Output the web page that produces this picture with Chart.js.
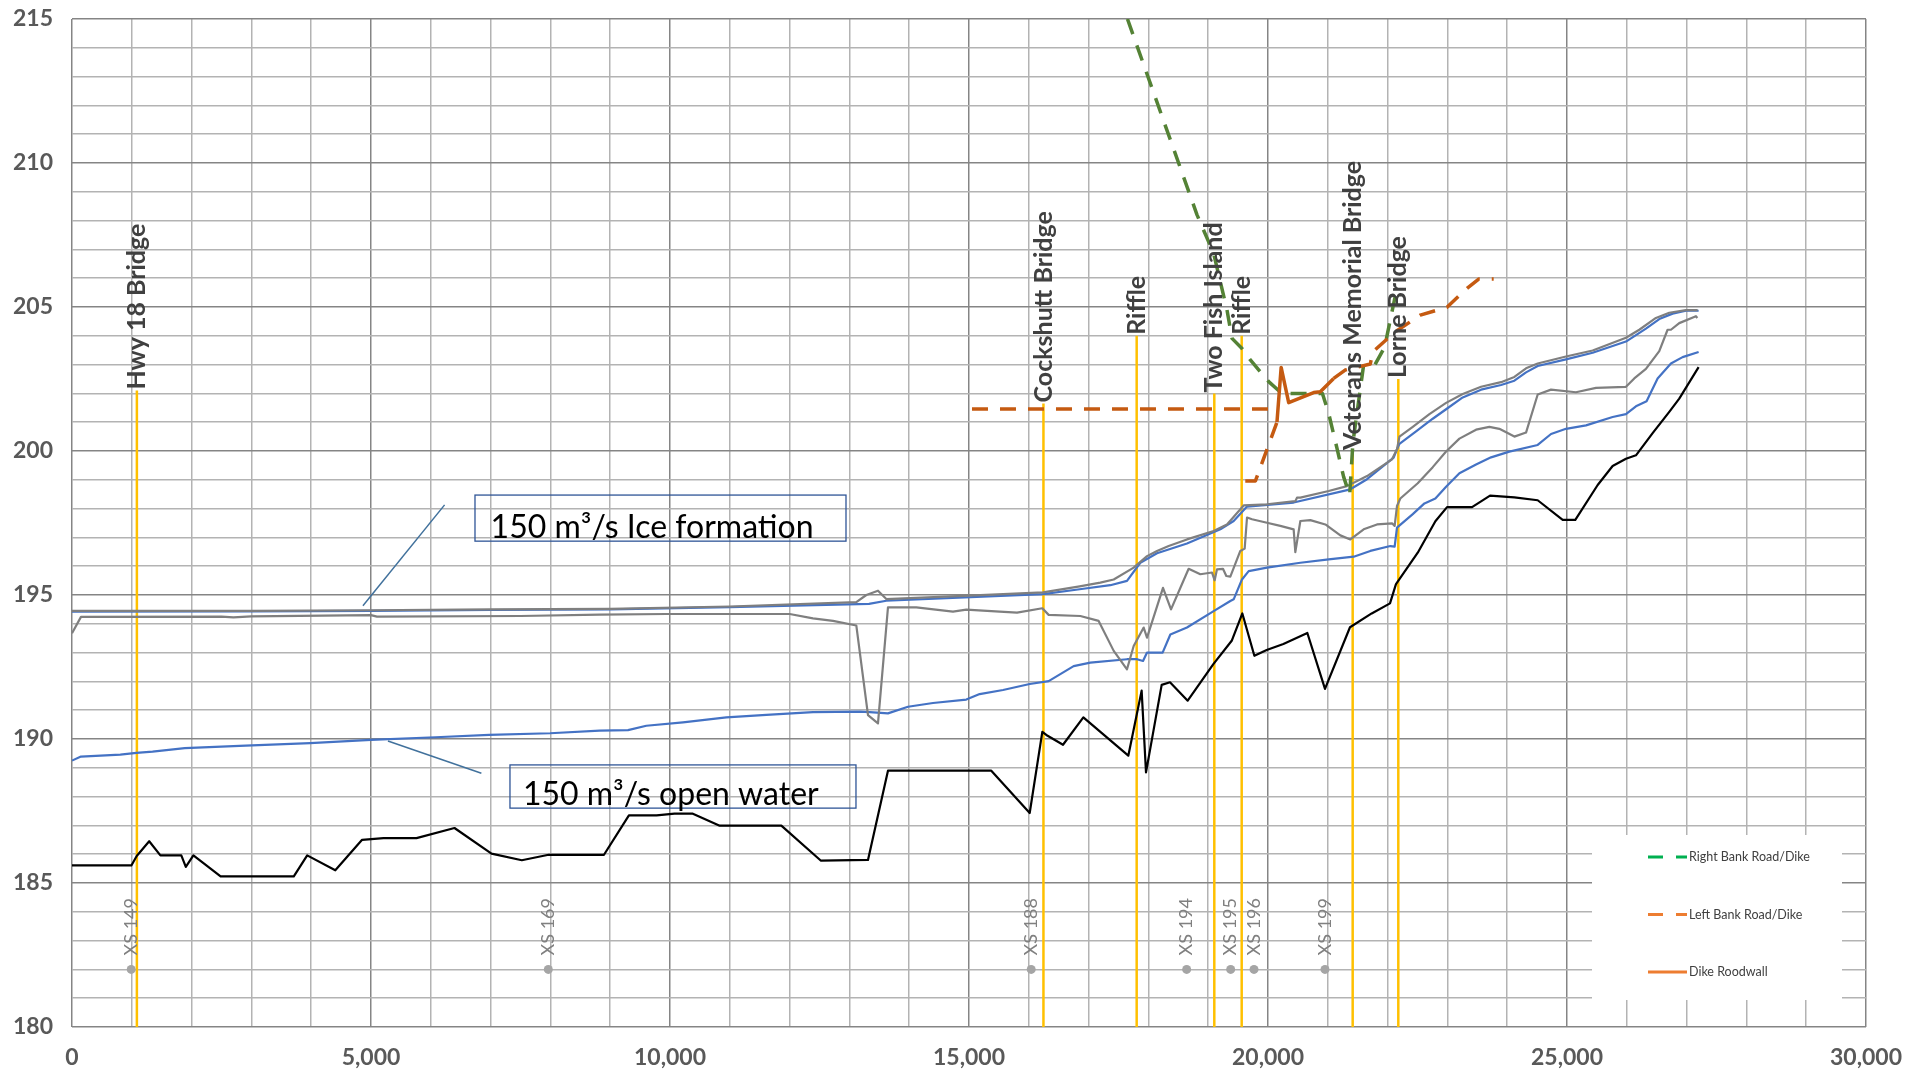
<!DOCTYPE html>
<html>
<head>
<meta charset="utf-8">
<title>Water surface profiles</title>
<script src="https://cdn.jsdelivr.net/npm/chart.js@4.4.1/dist/chart.umd.min.js"></script>
<style>
  html, body { margin: 0; padding: 0; background: #ffffff; }
  #wrap { width: 1911px; height: 1081px; position: relative; }
  canvas { display: block; }
</style>
</head>
<body>
<div id="wrap"><canvas id="profile" width="1911" height="1081"></canvas></div>
<script>
// ---- Profile data: station along the river (m) and elevation (m) ----

// Channel bed (thalweg)
const bedStation = [0, 993, 1082, 1291, 1478, 1828, 1903, 2030, 2485, 3709, 3933, 4403, 4851, 5209, 5761, 6396, 7015, 7522, 7970, 8896, 9313, 9776, 10075, 10373, 10831, 11862, 12520, 13311, 13645, 15373, 16015, 16226, 16293, 16572, 16912, 17664, 17887, 17960, 18222, 18361, 18657, 19086, 19393, 19571, 19772, 19978, 20257, 20658, 20953, 21371, 21734, 22040, 22140, 22504, 22799, 22994, 23412, 23713, 24120, 24510, 24928, 25139, 25513, 25763, 25986, 26153, 26432, 26710, 26877, 27201];
const bedElev = [185.61, 185.61, 185.94, 186.45, 185.96, 185.96, 185.56, 185.96, 185.23, 185.23, 185.96, 185.44, 186.5, 186.56, 186.56, 186.91, 186.02, 185.79, 185.98, 185.98, 187.35, 187.35, 187.41, 187.41, 186.99, 186.99, 185.78, 185.8, 188.9, 188.9, 187.43, 190.25, 190.14, 189.8, 190.75, 189.42, 191.68, 188.84, 191.88, 191.97, 191.33, 192.6, 193.41, 194.36, 192.89, 193.09, 193.3, 193.68, 191.74, 193.88, 194.36, 194.71, 195.38, 196.47, 197.56, 198.05, 198.05, 198.45, 198.39, 198.29, 197.61, 197.61, 198.82, 199.48, 199.73, 199.85, 200.62, 201.36, 201.82, 202.91];

// 150 m3/s open water surface
const openStation = [0, 150, 808, 1078, 1347, 1886, 2904, 3982, 5000, 6078, 6976, 7994, 8824, 9298, 9604, 10217, 10942, 11611, 12391, 13172, 13339, 13645, 13980, 14398, 14955, 15178, 15569, 16015, 16332, 16750, 17029, 17642, 17810, 17910, 17977, 18238, 18367, 18645, 19091, 19370, 19426, 19565, 19677, 19983, 20541, 21015, 21433, 21711, 22046, 22118, 22157, 22421, 22616, 22799, 22978, 23201, 23479, 23730, 24036, 24510, 24733, 24983, 25318, 25763, 25986, 26153, 26331, 26515, 26738, 26933, 27201];
const openElev = [189.25, 189.39, 189.46, 189.52, 189.56, 189.68, 189.77, 189.86, 189.97, 190.06, 190.14, 190.2, 190.29, 190.31, 190.46, 190.58, 190.75, 190.84, 190.93, 190.95, 190.93, 190.89, 191.12, 191.25, 191.37, 191.56, 191.7, 191.91, 192.01, 192.53, 192.65, 192.77, 192.77, 192.71, 193.0, 193.0, 193.63, 193.87, 194.44, 194.79, 194.85, 195.54, 195.83, 195.95, 196.12, 196.24, 196.33, 196.53, 196.7, 196.68, 197.34, 197.81, 198.18, 198.35, 198.76, 199.23, 199.53, 199.78, 199.98, 200.21, 200.59, 200.77, 200.89, 201.18, 201.28, 201.55, 201.73, 202.52, 203.04, 203.26, 203.44];

// 150 m3/s ice formation: underside of ice
const iceBottomStation = [0, 150, 2500, 2700, 3000, 5000, 5100, 7500, 8824, 9939, 12001, 12391, 12726, 13116, 13311, 13478, 13645, 14119, 14732, 14955, 15513, 15803, 16226, 16332, 16862, 17168, 17420, 17642, 17754, 17921, 17977, 18244, 18378, 18673, 18868, 19064, 19108, 19147, 19247, 19303, 19370, 19537, 19610, 19649, 19733, 19983, 20206, 20429, 20457, 20541, 20708, 20959, 21210, 21377, 21600, 21823, 22074, 22118, 22157, 22213, 22504, 22755, 22978, 23201, 23479, 23702, 23869, 24120, 24315, 24510, 24733, 25150, 25485, 25986, 26125, 26320, 26543, 26682, 26738, 26877, 27156, 27180];
const iceBottomElev = [193.67, 194.24, 194.25, 194.22, 194.26, 194.3, 194.25, 194.27, 194.32, 194.34, 194.34, 194.19, 194.1, 193.94, 190.83, 190.54, 194.57, 194.57, 194.42, 194.49, 194.42, 194.39, 194.54, 194.31, 194.27, 194.1, 193.06, 192.42, 193.23, 193.87, 193.52, 195.25, 194.5, 195.91, 195.72, 195.78, 195.51, 195.89, 195.91, 195.66, 195.64, 196.53, 196.61, 197.69, 197.63, 197.51, 197.4, 197.28, 196.49, 197.57, 197.6, 197.45, 197.07, 196.93, 197.28, 197.45, 197.49, 197.4, 198.09, 198.35, 198.88, 199.44, 199.98, 200.43, 200.74, 200.84, 200.77, 200.5, 200.64, 201.96, 202.13, 202.04, 202.19, 202.23, 202.52, 202.85, 203.47, 204.21, 204.21, 204.44, 204.68, 204.62];

// 150 m3/s ice formation: top of ice
const iceTopStation = [0, 3000, 5000, 7000, 9000, 11000, 13116, 13283, 13478, 13617, 15000, 16237, 16851, 17196, 17420, 17754, 17977, 18144, 18339, 18645, 19091, 19314, 19593, 19983, 20457, 20485, 20541, 21015, 21321, 21656, 22074, 22157, 22198, 22421, 22699, 22978, 23256, 23563, 23897, 24120, 24315, 24510, 24983, 25429, 25986, 26209, 26487, 26710, 26989, 27184];
const iceTopElev = [194.45, 194.45, 194.47, 194.5, 194.52, 194.6, 194.75, 195.0, 195.15, 194.86, 194.98, 195.09, 195.3, 195.43, 195.54, 195.95, 196.35, 196.53, 196.7, 196.93, 197.22, 197.45, 198.11, 198.15, 198.26, 198.38, 198.38, 198.61, 198.78, 199.13, 199.71, 200.06, 200.5, 200.84, 201.28, 201.67, 201.98, 202.23, 202.39, 202.57, 202.87, 203.04, 203.28, 203.49, 203.93, 204.21, 204.62, 204.8, 204.89, 204.89];

// 150 m3/s ice formation: water level under ice
const iceWaterStation = [0, 3000, 5000, 7000, 9000, 11000, 13328, 13617, 16237, 16851, 17363, 17642, 17865, 18144, 18645, 19203, 19426, 19649, 20429, 21377, 21656, 22101, 22157, 22198, 22476, 22755, 22978, 23256, 23563, 23897, 24120, 24315, 24510, 24983, 25429, 25986, 26320, 26543, 26766, 26989, 27201];
const iceWaterElev = [194.42, 194.43, 194.45, 194.48, 194.5, 194.58, 194.69, 194.8, 195.03, 195.2, 195.34, 195.49, 196.12, 196.45, 196.79, 197.28, 197.57, 198.07, 198.21, 198.67, 199.02, 199.77, 200.06, 200.25, 200.68, 201.12, 201.45, 201.86, 202.13, 202.29, 202.44, 202.73, 202.95, 203.18, 203.41, 203.8, 204.25, 204.58, 204.77, 204.87, 204.87];

// Top of right bank road / dike
const rightBankStation = [17650, 18813, 19091, 19314, 19398, 19565, 19705, 20011, 20230, 20910, 21014, 21154, 21265, 21366, 21420, 21600, 21790, 21950, 22150];
const rightBankElev = [215.0, 208.2, 206.86, 204.9, 203.91, 203.56, 203.16, 202.41, 202.0, 202.0, 201.31, 200.09, 199.1, 198.47, 200.3, 203.0, 203.0, 203.6, 205.6];

// Top of left bank road / dike (null marks a break in the line)
const leftBankStation = [15050, 20150, null, 19620, 19790, 20150, null, 21098, 21290, 21710, 21756, 22129, 22547, 22993, 23328, 23523, 23774];
const leftBankElev = [201.46, 201.46, null, 198.96, 198.96, 201.0, null, 202.52, 202.81, 203.02, 203.45, 204.14, 204.72, 204.99, 205.65, 205.97, 205.97];

// Top of dike floodwall
const floodwallStation = [20150, 20220, 20346, 20764, 20875, 21098];
const floodwallElev = [201.0, 202.9, 201.68, 202.03, 202.06, 202.52];

// Bridges and riffles
const bridgeNames = ['Hwy 18 Bridge', 'Cockshutt Bridge', 'Riffle', 'Two Fish Island', 'Riffle', 'Veterans Memorial Bridge', 'Lorne Bridge'];
const bridgeStations = [1085, 16245, 17804, 19102, 19560, 21416, 22179];
const bridgeTops = [202.1, 201.65, 204.0, 202.0, 204.0, 200.0, 202.5];
const bridgeBase = 180;

// Surveyed cross sections
const xsNames = ['XS 149', 'XS 169', 'XS 188', 'XS 194', 'XS 195', 'XS 196', 'XS 199'];
const xsStations = [990, 7965, 16040, 18640, 19376, 19766, 20953];
const xsElev = 182;

// Axis ranges and ticks
const xMin = 0, xMax = 30000, xMinorStep = 1000, xMajorStep = 5000;
const yMin = 180, yMax = 215, yMinorStep = 1, yMajorStep = 5;

// ---- Styling ----
const FONT = 'Lato, "Open Sans", "Liberation Sans", sans-serif';
const GRID_MINOR = '#b3b3b3';
const GRID_MAJOR = '#858585';
const GOLD = '#FFC000';
const BLUE = '#4472C4';
const GREY = '#7F7F7F';
const GREEN = '#548235';
const ORANGE = '#C55A11';

function pts(xs, ys) {
  return xs.map((x, i) => ys[i] === null
    ? { x: (x === null ? xs[i - 1] : x), y: null }
    : { x: x, y: ys[i] });
}

function profile(label, xs, ys, color, width, extra) {
  return Object.assign({
    label: label,
    data: pts(xs, ys),
    borderColor: color,
    backgroundColor: color,
    borderWidth: width,
    pointRadius: 0,
    pointHoverRadius: 0,
    fill: false,
    tension: 0,
    spanGaps: false,
    borderJoinStyle: 'round'
  }, extra || {});
}

const datasets = [];

// vertical lines at the bridges, labelled at their top
bridgeNames.forEach((name, i) => {
  datasets.push(profile(name, [bridgeStations[i], bridgeStations[i]], [bridgeBase, bridgeTops[i]], GOLD, 2.5,
    { order: 50, bridgeLabel: name }));
});

datasets.push({
  label: 'Cross sections',
  data: pts(xsStations, xsStations.map(() => xsElev)),
  showLine: false,
  pointRadius: 4.5,
  pointHoverRadius: 4.5,
  pointBorderWidth: 0,
  pointBackgroundColor: '#A5A5A5',
  borderColor: '#A5A5A5',
  order: 45,
  xsLabels: xsNames
});

datasets.push(profile('Channel bed', bedStation, bedElev, '#000000', 2.2, { order: 30 }));
datasets.push(profile('150 m³/s open water', openStation, openElev, BLUE, 2.2, { order: 29 }));
datasets.push(profile('150 m³/s ice formation - underside of ice', iceBottomStation, iceBottomElev, GREY, 2.2, { order: 28 }));
datasets.push(profile('150 m³/s ice formation - water level', iceWaterStation, iceWaterElev, BLUE, 2.2, { order: 27 }));
datasets.push(profile('150 m³/s ice formation - top of ice', iceTopStation, iceTopElev, GREY, 2.2, { order: 26 }));
datasets.push(profile('Right Bank Road/Dike', rightBankStation, rightBankElev, GREEN, 3.5,
  { order: 10, borderDash: [16, 12], borderCapStyle: 'butt', legendColor: '#00B050' }));
datasets.push(profile('Left Bank Road/Dike', leftBankStation, leftBankElev, ORANGE, 3.5,
  { order: 9, borderDash: [16, 12], borderCapStyle: 'butt', legendColor: '#ED7D31' }));
datasets.push(profile('Dike Roodwall', floodwallStation, floodwallElev, ORANGE, 3.5,
  { order: 8, legendColor: '#ED7D31' }));

const legendItems = ['Right Bank Road/Dike', 'Left Bank Road/Dike', 'Dike Roodwall'];

// Flow annotations: a framed note with a leader line to its profile (data units)
const notes = [
  { text: '150 m³/s Ice formation', box: [6739, 12943, 198.47, 196.87], textAt: [7000, 196.98], leader: [[6231, 198.13], [4865, 194.63]] },
  { text: '150 m³/s open water', box: [7324, 13110, 189.1, 187.6], textAt: [7540, 187.7], leader: [[5283, 189.93], [6846, 188.81]] }
];

// ---- Plugins ----
const legendBox = {
  id: 'legendBox',
  beforeDatasetsDraw(chart) {
    const { ctx, chartArea: a } = chart;
    ctx.save();
    ctx.fillStyle = '#ffffff';
    ctx.fillRect(a.right - 274, a.bottom - 192, 250, 165);
    ctx.restore();
  },
  afterDatasetsDraw(chart) {
    const { ctx, chartArea: a } = chart;
    ctx.save();
    legendItems.forEach((name, k) => {
      const ds = chart.data.datasets.find(d => d.label === name);
      const y = a.bottom - 170 + k * 57.5;
      const x0 = a.right - 218, x1 = a.right - 179;
      ctx.strokeStyle = ds.legendColor || ds.borderColor;
      ctx.lineWidth = 3;
      ctx.lineCap = 'butt';
      ctx.setLineDash(ds.borderDash ? [15, 13] : []);
      ctx.beginPath();
      ctx.moveTo(x0, y);
      ctx.lineTo(x1, y);
      ctx.stroke();
      ctx.setLineDash([]);
      ctx.fillStyle = '#404040';
      ctx.font = '12.5px ' + FONT;
      ctx.textAlign = 'left';
      ctx.textBaseline = 'middle';
      ctx.fillText(name, x1 + 2, y);
    });
    ctx.restore();
  }
};

const markLabels = {
  id: 'markLabels',
  afterDatasetsDraw(chart) {
    const { ctx } = chart;
    const xs = chart.scales.x, ys = chart.scales.y;
    ctx.save();
    chart.data.datasets.forEach(ds => {
      if (ds.bridgeLabel) {
        const top = ds.data[1];
        const px = xs.getPixelForValue(top.x), py = ys.getPixelForValue(top.y);
        ctx.save();
        ctx.translate(px, py - 1);
        ctx.rotate(-Math.PI / 2);
        ctx.font = 'bold 25px ' + FONT;
        ctx.fillStyle = '#404040';
        ctx.textAlign = 'left';
        ctx.textBaseline = 'middle';
        ctx.fillText(ds.bridgeLabel, 0, 0);
        ctx.restore();
      }
      if (ds.xsLabels) {
        ds.data.forEach((p, i) => {
          const px = xs.getPixelForValue(p.x), py = ys.getPixelForValue(p.y);
          ctx.save();
          ctx.translate(px, py - 14);
          ctx.rotate(-Math.PI / 2);
          ctx.font = '18px ' + FONT;
          ctx.fillStyle = '#808080';
          ctx.textAlign = 'left';
          ctx.textBaseline = 'middle';
          ctx.fillText(ds.xsLabels[i], 0, 0);
          ctx.restore();
        });
      }
    });
    ctx.restore();
  }
};

const flowNotes = {
  id: 'flowNotes',
  afterDatasetsDraw(chart) {
    const { ctx } = chart;
    const xs = chart.scales.x, ys = chart.scales.y;
    ctx.save();
    notes.forEach(n => {
      const l = xs.getPixelForValue(n.leader[0][0]), t = ys.getPixelForValue(n.leader[0][1]);
      const r = xs.getPixelForValue(n.leader[1][0]), b = ys.getPixelForValue(n.leader[1][1]);
      ctx.strokeStyle = '#41719C';
      ctx.lineWidth = 1.5;
      ctx.beginPath();
      ctx.moveTo(l, t);
      ctx.lineTo(r, b);
      ctx.stroke();

      const bx0 = xs.getPixelForValue(n.box[0]), bx1 = xs.getPixelForValue(n.box[1]);
      const by0 = ys.getPixelForValue(n.box[2]), by1 = ys.getPixelForValue(n.box[3]);
      ctx.strokeStyle = '#2F5597';
      ctx.lineWidth = 1.3;
      ctx.strokeRect(bx0, by0, bx1 - bx0, by1 - by0);

      ctx.fillStyle = '#000000';
      ctx.font = '32px ' + FONT;
      ctx.textAlign = 'left';
      ctx.textBaseline = 'alphabetic';
      ctx.fillText(n.text, xs.getPixelForValue(n.textAt[0]), ys.getPixelForValue(n.textAt[1]));
    });
    ctx.restore();
  }
};

// ---- Chart ----
const gridColor = (step) => (c) => (c.tick && Math.round(c.tick.value) % step === 0 ? GRID_MAJOR : GRID_MINOR);

new Chart(document.getElementById('profile'), {
  type: 'line',
  data: { datasets: datasets },
  options: {
    responsive: false,
    devicePixelRatio: 1,
    animation: false,
    parsing: true,
    layout: { padding: { top: 19, right: 45, left: 13, bottom: 0 } },
    plugins: {
      legend: { display: false },
      tooltip: { enabled: false }
    },
    scales: {
      x: {
        type: 'linear',
        min: xMin,
        max: xMax,
        afterFit(scale) { scale.height = 54; },
        border: { display: false },
        grid: { color: gridColor(xMajorStep), lineWidth: 1.5, drawTicks: false },
        ticks: {
          stepSize: xMinorStep,
          autoSkip: false,
          maxRotation: 0,
          padding: 0,
          color: '#595959',
          font: { family: FONT, size: 23, weight: 'bold', lineHeight: 2.7 },
          callback: (v) => (v % xMajorStep === 0 ? v.toLocaleString('en-US') : '')
        }
      },
      y: {
        type: 'linear',
        min: yMin,
        max: yMax,
        afterFit(scale) { scale.width = 59; },
        border: { display: false },
        grid: { color: gridColor(yMajorStep), lineWidth: 1.5, drawTicks: false },
        ticks: {
          stepSize: yMinorStep,
          autoSkip: false,
          padding: 0,
          crossAlign: 'far',
          color: '#595959',
          font: { family: FONT, size: 23, weight: 'bold' },
          callback: (v) => (v % yMajorStep === 0 ? String(v) : '')
        }
      }
    }
  },
  plugins: [legendBox, markLabels, flowNotes]
});
</script>
</body>
</html>
